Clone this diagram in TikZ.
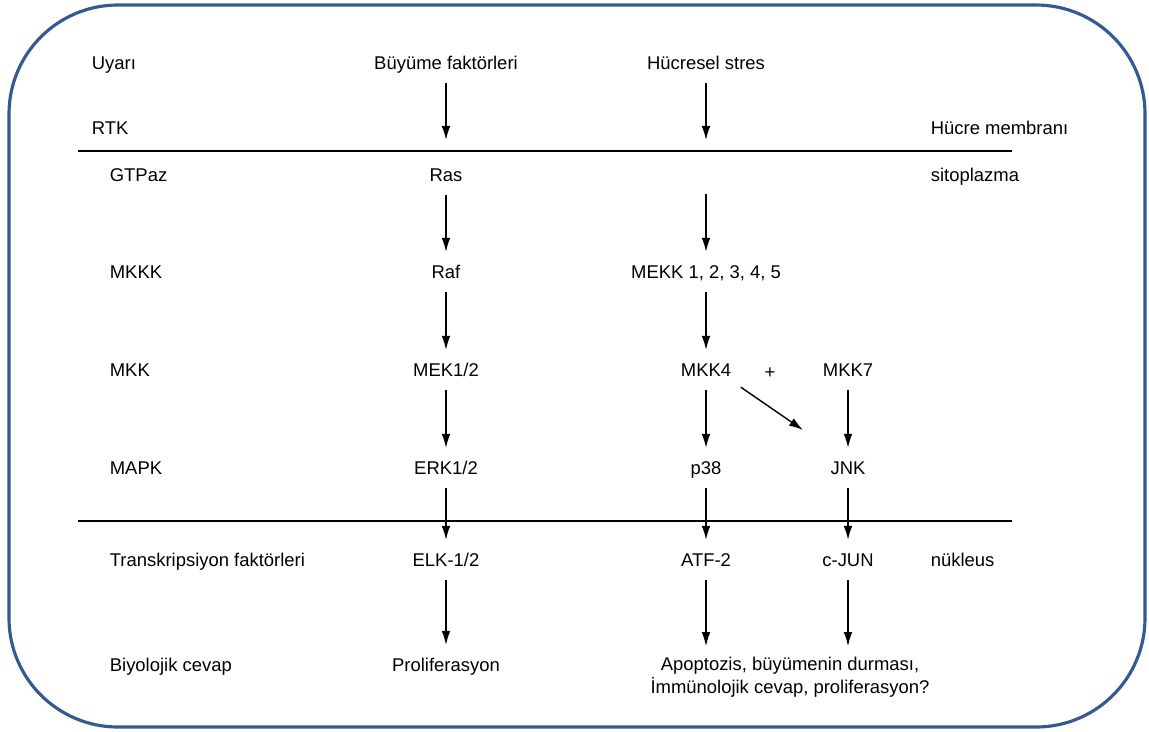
\documentclass[tikz,border=0pt]{standalone}
\usepackage{fontspec}
\setmainfont{Liberation Sans}
\usetikzlibrary{arrows.meta}
\definecolor{framebl}{RGB}{52,90,145}

\begin{document}
\begin{tikzpicture}[x=0.02cm,y=-0.02cm,
  font=\fontsize{10.5}{13}\selectfont,
  lbl/.style={inner sep=2pt, text height=1.7ex, text depth=0.3ex},
  flow/.style={->,>={Latex[length=8pt,width=5pt]}, line width=0.8pt, shorten <=4pt, shorten >=4pt}]
\useasboundingbox (0,0) rectangle (1149,731);
% frame
\draw[framebl, line width=1.8pt, rounded corners=62pt] (9,5) rectangle (1145,727);

% row labels
\node[lbl,anchor=west] (uyari) at (88,63) {Uyarı};
\node[lbl,anchor=west] (rtk) at (88,128) {RTK};
\node[lbl,anchor=west] (gtpaz) at (106,175) {GTPaz};
\node[lbl,anchor=west] (mkkk) at (106,272) {MKKK};
\node[lbl,anchor=west] (mkk) at (106,370) {MKK};
\node[lbl,anchor=west] (mapk) at (106,468) {MAPK};
\node[lbl,anchor=west] (tf) at (106,560) {Transkripsiyon faktörleri};
\node[lbl,anchor=west] (bio) at (106,665) {Biyolojik cevap};

% compartments
\node[lbl,anchor=west] (membran) at (927,128) {Hücre membranı};
\node[lbl,anchor=west] (sito) at (927,175) {sitoplazma};
\node[lbl,anchor=west] (nukleus) at (927,560) {nükleus};
\draw[line width=0.8pt] (78,151) -- (1012,151);
\draw[line width=0.8pt] (78,521) -- (1012,521);

% growth factor pathway
\node[lbl] (buyume) at (446,63) {Büyüme faktörleri};
\coordinate (rtk2) at (446,140);
\node[lbl] (ras) at (446,175) {Ras};
\node[lbl] (raf) at (446,272) {Raf};
\node[lbl] (mek) at (446,370) {MEK1/2};
\node[lbl] (erk) at (446,468) {ERK1/2};
\node[lbl] (elk) at (446,560) {ELK-1/2};
\node[lbl] (prolif) at (446,665) {Proliferasyon};

% stress pathway
\node[lbl] (stres) at (706,63) {Hücresel stres};
\coordinate (rtk3) at (706,140);
\coordinate (gtp3) at (706,194);
\node[lbl] (mekk) at (706,272) {MEKK 1, 2, 3, 4, 5};
\node[lbl] (mkk4) at (706,370) {MKK4};
\node[lbl] (plus) at (770,372) {+};
\node[lbl] (mkk7) at (848,370) {MKK7};
\node[lbl] (p38) at (706,468) {p38};
\node[lbl] (jnk) at (848,468) {JNK};
\coordinate (jnkin) at (803,430);
\node[lbl] (atf) at (706,560) {ATF-2};
\node[lbl] (cjun) at (848,560) {c-JUN};
\node[inner sep=2pt,align=center] (apop) at (790,677) {Apoptozis, büyümenin durması,\\İmmünolojik cevap, proliferasyon?};

\draw[flow,shorten >=0pt] (buyume) -- (rtk2);
\draw[flow] (ras) -- (raf);
\draw[flow] (raf) -- (mek);
\draw[flow] (mek) -- (erk);
\draw[flow] (erk) -- (elk);
\draw[flow] (elk) -- (prolif);

\draw[flow,shorten >=0pt] (stres) -- (rtk3);
\draw[flow,shorten <=0pt] (gtp3) -- (mekk);
\draw[flow] (mekk) -- (mkk4);
\draw[flow] (mkk4) -- (p38);
\draw[flow,shorten >=0pt] (mkk4.south east) -- (jnkin);
\draw[flow] (mkk7) -- (jnk);
\draw[flow] (p38) -- (atf);
\draw[flow] (jnk) -- (cjun);
\draw[flow] (atf) -- (atf |- apop.north);
\draw[flow] (cjun) -- (cjun |- apop.north);

\end{tikzpicture}
\end{document}
